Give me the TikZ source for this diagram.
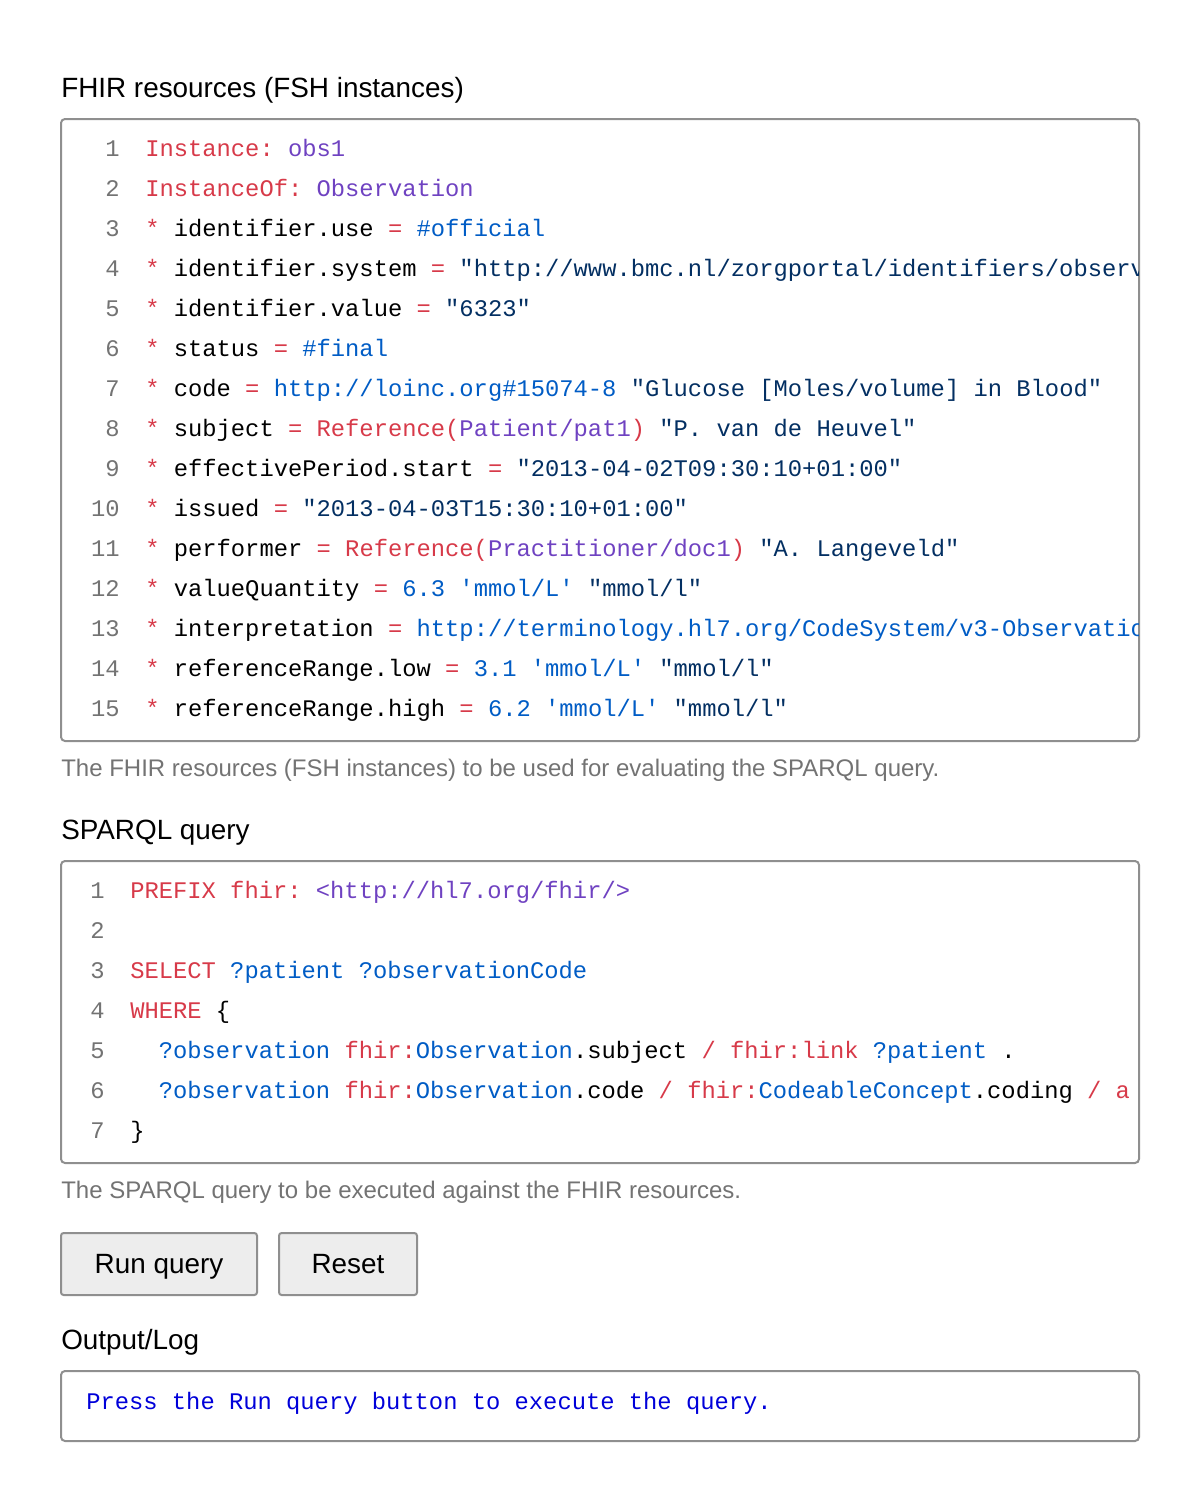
\documentclass[tikz,border=0pt]{standalone}
\usepackage{fontspec}
\setmainfont{Liberation Sans}
\setmonofont{Liberation Mono}
\usetikzlibrary{positioning}
\definecolor{kwred}{HTML}{D73A49}
\definecolor{kwpurple}{HTML}{6F42C1}
\definecolor{kwblue}{HTML}{005CC5}
\definecolor{strnavy}{HTML}{032F62}
\definecolor{boxgray}{HTML}{8F8F8F}
\newcommand{\kr}[1]{\textcolor{kwred}{#1}}
\newcommand{\kp}[1]{\textcolor{kwpurple}{#1}}
\newcommand{\kb}[1]{\textcolor{kwblue}{#1}}
\newcommand{\ks}[1]{\textcolor{strnavy}{#1}}

\begin{document}
\begin{tikzpicture}[x=0.75pt, y=-0.75pt]
\tikzstyle{panel}=[draw=boxgray, line width=1.5pt, rounded corners=3pt]
\tikzstyle{button}=[draw=boxgray, line width=1.5pt, fill=black!7, rounded corners=2pt]
\tikzstyle{heading}=[anchor=base west, inner sep=0pt, font=\fontsize{20.9}{24}\selectfont]
\tikzstyle{caption}=[anchor=base west, inner sep=0pt, text=black!55, font=\fontsize{18}{20}\selectfont]
\tikzstyle{code}=[anchor=base west, inner sep=0pt, font=\ttfamily\fontsize{17.85}{20}\selectfont]
\tikzstyle{lineno}=[anchor=base east, inner sep=0pt, text=black!55, font=\ttfamily\fontsize{17.85}{20}\selectfont]
\useasboundingbox (0,0) rectangle (1200,1510);

% FHIR resources
\node[heading] (h1) at (61,97) {FHIR resources (FSH instances)};
\draw[panel] (61,119) rectangle (1139,741);
\foreach \n in {1,...,15}
{\node[lineno] (fl\n) at (120,116+40*\n) {\n};}
\begin{scope}
\clip (62,120) rectangle (1138,740);
\node[code] (f1) at (145,156) {\kr{Instance:} \kp{obs1}};
\node[code] (f2) at (145,196) {\kr{InstanceOf:} \kp{Observation}};
\node[code] (f3) at (145,236) {\kr{*} identifier.use \kr{=} \kb{\#official}};
\node[code] (f4) at (145,276) {\kr{*} identifier.system \kr{=} \ks{"http://www.bmc.nl/zorgportal/identifiers/observations"}};
\node[code] (f5) at (145,316) {\kr{*} identifier.value \kr{=} \ks{"6323"}};
\node[code] (f6) at (145,356) {\kr{*} status \kr{=} \kb{\#final}};
\node[code] (f7) at (145,396) {\kr{*} code \kr{=} \kb{http://loinc.org\#15074-8} \ks{"Glucose [Moles/volume] in Blood"}};
\node[code] (f8) at (145,436) {\kr{*} subject \kr{=} \kr{Reference(}\kp{Patient/pat1}\kr{)} \ks{"P. van de Heuvel"}};
\node[code] (f9) at (145,476) {\kr{*} effectivePeriod.start \kr{=} \ks{"2013-04-02T09:30:10+01:00"}};
\node[code] (f10) at (145,516) {\kr{*} issued \kr{=} \ks{"2013-04-03T15:30:10+01:00"}};
\node[code] (f11) at (145,556) {\kr{*} performer \kr{=} \kr{Reference(}\kp{Practitioner/doc1}\kr{)} \ks{"A. Langeveld"}};
\node[code] (f12) at (145,596) {\kr{*} valueQuantity \kr{=} \kb{6.3} \kb{'mmol/L'} \ks{"mmol/l"}};
\node[code] (f13) at (145,636) {\kr{*} interpretation \kr{=} \kb{http://terminology.hl7.org/CodeSystem/v3-ObservationInterpretation\#N}};
\node[code] (f14) at (145,676) {\kr{*} referenceRange.low \kr{=} \kb{3.1} \kb{'mmol/L'} \ks{"mmol/l"}};
\node[code] (f15) at (145,716) {\kr{*} referenceRange.high \kr{=} \kb{6.2} \kb{'mmol/L'} \ks{"mmol/l"}};
\end{scope}
\node[caption] (c1) at (61,776) {The FHIR resources (FSH instances) to be used for evaluating the SPARQL query.};

% SPARQL query
\node[heading] (h2) at (61,839) {SPARQL query};
\draw[panel] (61,861) rectangle (1139,1163);
\foreach \n in {1,...,7}
{\node[lineno] (sl\n) at (105,858+40*\n) {\n};}
\begin{scope}
\clip (62,862) rectangle (1138,1162);
\node[code] (s1) at (130,898) {\kr{PREFIX} \kr{fhir:} \kp{<http://hl7.org/fhir/>}};
\node[code] (s3) at (130,978) {\kr{SELECT} \kb{?patient} \kb{?observationCode}};
\node[code] (s4) at (130,1018) {\kr{WHERE} \{};
\node[code] (s5) at (130,1058) {\ \ \kb{?observation} \kr{fhir:}\kb{Observation}.subject \kr{/} \kr{fhir:link} \kb{?patient} .};
\node[code] (s6) at (130,1098) {\ \ \kb{?observation} \kr{fhir:}\kb{Observation}.code \kr{/} \kr{fhir:}\kb{CodeableConcept}.coding \kr{/} \kr{a}};
\node[code] (s7) at (130,1138) {\}};
\end{scope}
\node[caption] (c2) at (61,1198) {The SPARQL query to be executed against the FHIR resources.};

% buttons
\draw[button] (61,1233) rectangle (257,1295);
\node[heading, anchor=base] (run) at (159,1273) {Run query};
\draw[button] (279,1233) rectangle (417,1295);
\node[heading, anchor=base] (reset) at (348,1273) {Reset};

% output
\node[heading] (h3) at (61,1349) {Output/Log};
\draw[panel] (61,1371) rectangle (1139,1441);
\node[code, text=blue!85!black] (out) at (86,1409) {Press the Run query button to execute the query.};
\end{tikzpicture}
\end{document}
